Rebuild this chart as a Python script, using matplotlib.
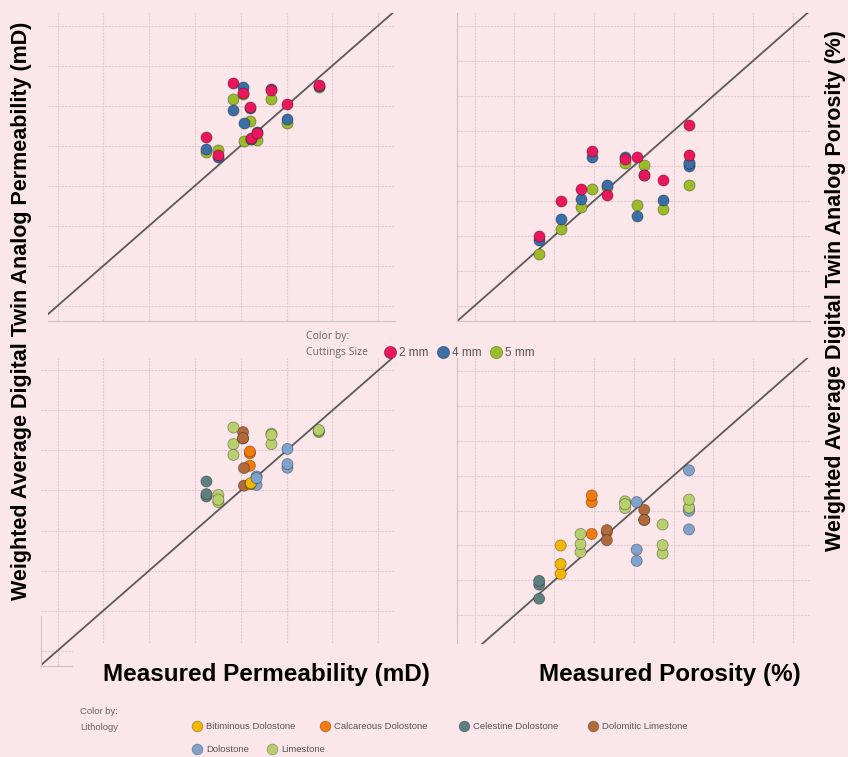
import numpy as np
import matplotlib
matplotlib.use('Agg')
import matplotlib.pyplot as plt
from matplotlib import font_manager
from matplotlib.patches import Rectangle

# measured vs digital-twin values, one entry per sample
perm_measured = [3.25, 3.51, 3.84, 4.05, 4.07, 4.20, 4.22, 4.345, 4.67, 5.02, 5.705]
perm_2mm = [4.225, 3.77, 5.575, 5.31, np.nan, 4.975, 4.185, 4.31, 5.39, 5.04, 5.51]
perm_4mm = [3.91, 3.71, 4.89, 5.46, 4.56, 4.93, 4.17, 4.35, 5.42, 4.66, 5.49]
perm_5mm = [3.85, 3.89, 5.16, 5.30, 4.12, 4.62, 4.16, 4.14, 5.16, 4.57, 5.46]
perm_litho = ['Celestine Dolostone', 'Limestone', 'Limestone', 'Dolomitic Limestone',
              'Dolomitic Limestone', 'Calcareous Dolostone', 'Bitiminous Dolostone',
              'Dolostone', 'Limestone', 'Dolostone', 'Limestone']

poro_measured = [1.62, 2.16, 2.66, 2.94, 3.32, 3.78, 4.07, 4.26, 4.72, 5.385, 5.385]
poro_2mm = [1.99, 3.00, 3.33, 4.43, 3.15, 4.18, 4.24, 3.73, 3.60, 5.15, 4.31]
poro_4mm = [1.88, 2.47, 3.04, 4.24, 3.44, 4.26, 2.56, 3.73, 3.01, 3.99, 4.08]
poro_5mm = [1.48, 2.19, 2.81, 3.33, 3.38, 4.07, 2.88, 4.02, 2.77, 3.46, 4.07]
poro_litho = ['Celestine Dolostone', 'Bitiminous Dolostone', 'Limestone', 'Calcareous Dolostone',
              'Dolomitic Limestone', 'Limestone', 'Dolostone', 'Dolomitic Limestone',
              'Limestone', 'Dolostone', 'Limestone']

size_labels = ['2 mm', '4 mm', '5 mm']
size_colors = ['#e8175d', '#3b6ea5', '#9cbb2b']

litho_names = ['Bitiminous Dolostone', 'Calcareous Dolostone', 'Celestine Dolostone',
               'Dolomitic Limestone', 'Dolostone', 'Limestone']
litho_colors = ['#f2b701', '#f47a0a', '#5e8080', '#b06a3b', '#7fa3cd', '#b8cf6e']
litho_cmap = dict(zip(litho_names, litho_colors))

W, H = 848, 757
BG = '#fbe6e9'
GRID = '#ddcdd2'
EDGE = (0, 0, 0, 0.35)

names = {f.name for f in font_manager.fontManager.ttflist}
if 'Liberation Sans Narrow' in names:
    narrow, small_fs = 'Liberation Sans Narrow', 8
else:
    narrow, small_fs = 'Liberation Sans', 6.8

fig = plt.figure(figsize=(W / 100, H / 100), dpi=100)
fig.patch.set_facecolor(BG)


def px_axes(x0, y0, x1, y1):
    return fig.add_axes([x0 / W, 1 - y1 / H, (x1 - x0) / W, (y1 - y0) / H])


def style(ax, xlim, ylim, nx, ny, left=True):
    ax.set_facecolor(BG)
    ax.set_xlim(*xlim)
    ax.set_ylim(*ylim)
    ax.set_xticks(range(nx + 1))
    ax.set_yticks(range(ny + 1))
    ax.set_xticklabels([])
    ax.set_yticklabels([])
    ax.tick_params(length=0)
    ax.grid(True, color=GRID, lw=0.8, ls=(0, (2, 1)))
    ax.set_axisbelow(True)
    for s in ['top', 'right']:
        ax.spines[s].set_visible(False)
    ax.spines['bottom'].set_color('#cdbfc3')
    ax.spines['left'].set_color('#cdbfc3')
    ax.spines['left'].set_visible(left)
    ax.axline((0, 0), slope=1, color='#5a5a5a', lw=1.3, zorder=2)


def by_size(ax, x, series):
    for y, c in zip(series[::-1], size_colors[::-1]):
        ax.scatter(x, y, s=64, c=c, edgecolors=EDGE, linewidths=0.6, zorder=3)


def by_litho(ax, x, series, litho):
    cols = [litho_cmap[l] for l in litho]
    for y in series[::-1]:
        ax.scatter(x, y, s=64, c=cols, edgecolors=EDGE, linewidths=0.6, zorder=3)


ax1 = px_axes(47.7, 12.7, 395, 321)
style(ax1, (-0.218, 7.37), (-0.383, 7.325), 7, 7, left=False)
by_size(ax1, perm_measured, [perm_2mm, perm_4mm, perm_5mm])

ax2 = px_axes(457.3, 12.7, 810, 321)
style(ax2, (-0.437, 8.425), (-0.437, 8.37), 8, 8)
by_size(ax2, poro_measured, [poro_2mm, poro_4mm, poro_5mm])

ax3 = px_axes(40.7, 358.3, 395, 665.7)
style(ax3, (-0.371, 7.37), (-0.38, 7.305), 7, 7)
ax3.spines['left'].set_bounds(-0.38, 0.86)
by_litho(ax3, perm_measured, [perm_2mm, perm_4mm, perm_5mm], perm_litho)

ax4 = px_axes(457.3, 358.3, 810, 665.5)
style(ax4, (-0.437, 8.425), (-0.43, 8.35), 8, 8)
by_litho(ax4, poro_measured, [poro_2mm, poro_4mm, poro_5mm], poro_litho)

# overlay in pixel coordinates for labels / legends
ov = fig.add_axes([0, 0, 1, 1])
ov.set_xlim(0, W)
ov.set_ylim(H, 0)
ov.axis('off')
ov.patch.set_visible(False)
ov.add_patch(Rectangle((73, 644.3), W - 73, H - 644.3, facecolor=BG, edgecolor='none', zorder=0))

bold = dict(fontweight='bold', family='Liberation Sans', color='black')
ov.text(266, 675, 'Measured Permeability (mD)', ha='center', va='center', fontsize=17.5, **bold)
ov.text(670, 675, 'Measured Porosity (%)', ha='center', va='center', fontsize=17.5, **bold)
ov.text(22, 311, 'Weighted Average Digital Twin Analog Permeability (mD)', rotation=90,
        ha='center', va='center', fontsize=15.5, **bold)
ov.text(836, 291, 'Weighted Average Digital Twin Analog Porosity (%)', rotation=90,
        ha='center', va='center', fontsize=15.5, **bold)

# cuttings size legend
ov.text(306, 336, 'Color by:', fontsize=7.5, color='#666666', va='center', family='Open Sans')
ov.text(306, 352, 'Cuttings Size', fontsize=7.5, color='#666666', va='center', family='Open Sans')
for i, (lab, c) in enumerate(zip(size_labels, size_colors)):
    xm = 390 + i * 53
    ov.scatter(xm, 352, s=80, c=c, edgecolors=EDGE, linewidths=0.5, zorder=3)
    ov.text(xm + 9, 352.5, lab, fontsize=8.5, color='#555555', va='center', family='Liberation Sans')

# lithology legend
ov.text(80, 711, 'Color by:', fontsize=small_fs, color='#666666', va='center', family=narrow)
ov.text(80, 727, 'Lithology', fontsize=small_fs, color='#666666', va='center', family=narrow)
leg_x = [197, 325, 464, 593, 197, 272]
leg_y = [726, 726, 726, 726, 749, 749]
for lab, c, xm, ym in zip(litho_names, litho_colors, leg_x, leg_y):
    ov.scatter(xm, ym, s=60, c=c, edgecolors=EDGE, linewidths=0.5, zorder=3)
    ov.text(xm + 9, ym + 0.5, lab, fontsize=small_fs, color='#555555', va='center', family=narrow)

fig.savefig('out.png', dpi=100, facecolor=BG)
